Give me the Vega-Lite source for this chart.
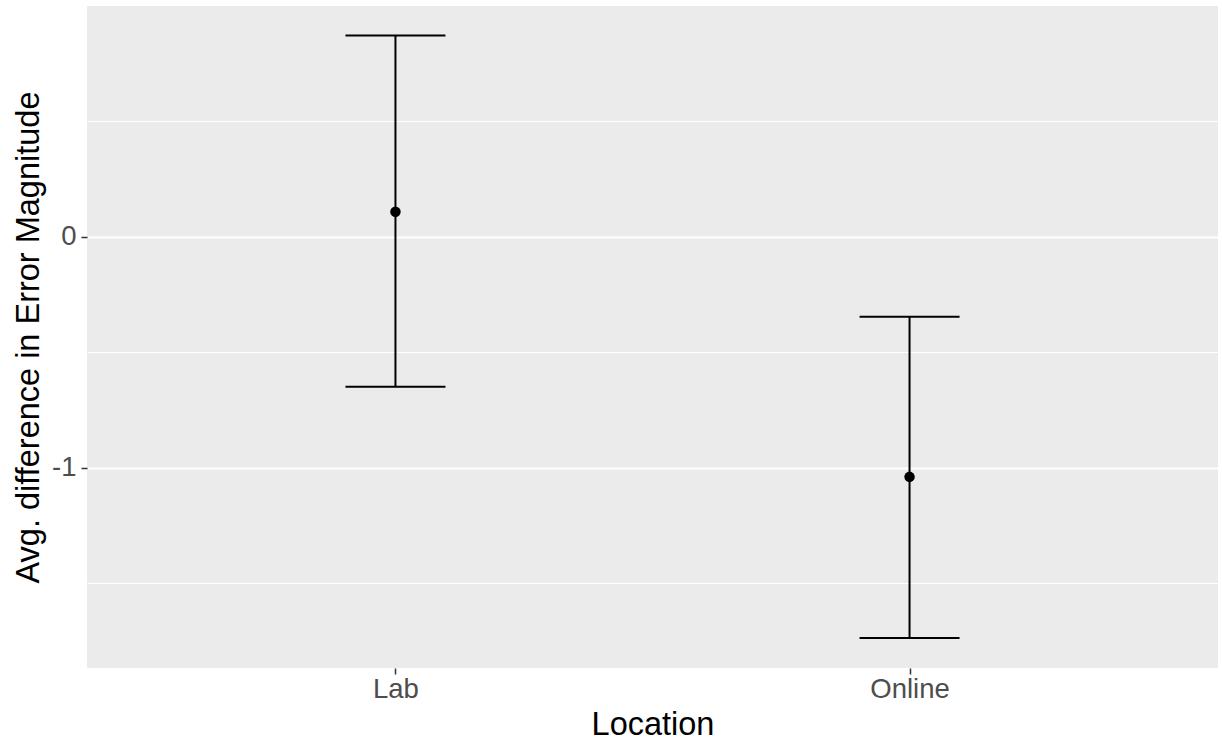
{
  "$schema": "https://vega.github.io/schema/vega-lite/v6.json",
  "autosize": "none",
  "width": 1131,
  "height": 662,
  "padding": {"left": 87, "top": 6, "right": 4, "bottom": 74},
  "background": "white",
  "config": {
    "view": {"fill": "#EBEBEB", "stroke": null},
    "font": "Liberation Sans",
    "axis": {
      "domain": false,
      "gridColor": "white",
      "tickColor": "#333333",
      "tickSize": 6,
      "tickWidth": 1.5,
      "labelColor": "#4D4D4D",
      "labelFontSize": 27.5,
      "labelFont": "Liberation Sans",
      "titleFont": "Liberation Sans",
      "titleFontSize": 32.5,
      "titleFontWeight": "normal",
      "titleColor": "black"
    }
  },
  "data": {
    "values": [
      {"Location": "Lab", "mean": 0.108, "lower": -0.649, "upper": 0.870},
      {"Location": "Online", "mean": -1.039, "lower": -1.736, "upper": -0.346}
    ]
  },
  "encoding": {
    "x": {
      "field": "Location",
      "type": "nominal",
      "scale": {"type": "point", "padding": 0.6},
      "axis": {"labelAngle": 0, "gridWidth": 2, "labelPadding": 1, "titlePadding": 6}
    }
  },
  "layer": [
    {
      "mark": {"type": "rule", "color": "black", "strokeWidth": 2, "opacity": 1},
      "encoding": {
        "y": {
          "field": "lower",
          "type": "quantitative",
          "scale": {"domain": [-1.866, 0.998], "nice": false, "zero": false},
          "axis": {
            "title": "Avg. difference in Error Magnitude",
            "values": [-1.5, -1, -0.5, 0, 0.5],
            "labelExpr": "datum.value % 1 !== 0 ? '' : (datum.value < 0 ? '-' + abs(datum.value) : '' + datum.value)",
            "gridWidth": {"condition": {"test": "datum.value % 1 === 0", "value": 2}, "value": 1},
            "tickOpacity": {"condition": {"test": "datum.value % 1 === 0", "value": 1}, "value": 0},
            "labelPadding": 5,
            "titlePadding": 6
          }
        },
        "y2": {"field": "upper"}
      }
    },
    {
      "mark": {"type": "tick", "color": "black", "size": 100, "thickness": 2, "orient": "horizontal", "opacity": 1},
      "encoding": {"y": {"field": "lower", "type": "quantitative"}}
    },
    {
      "mark": {"type": "tick", "color": "black", "size": 100, "thickness": 2, "orient": "horizontal", "opacity": 1},
      "encoding": {"y": {"field": "upper", "type": "quantitative"}}
    },
    {
      "mark": {"type": "point", "filled": true, "color": "black", "opacity": 1, "size": 110},
      "encoding": {"y": {"field": "mean", "type": "quantitative"}}
    }
  ]
}
